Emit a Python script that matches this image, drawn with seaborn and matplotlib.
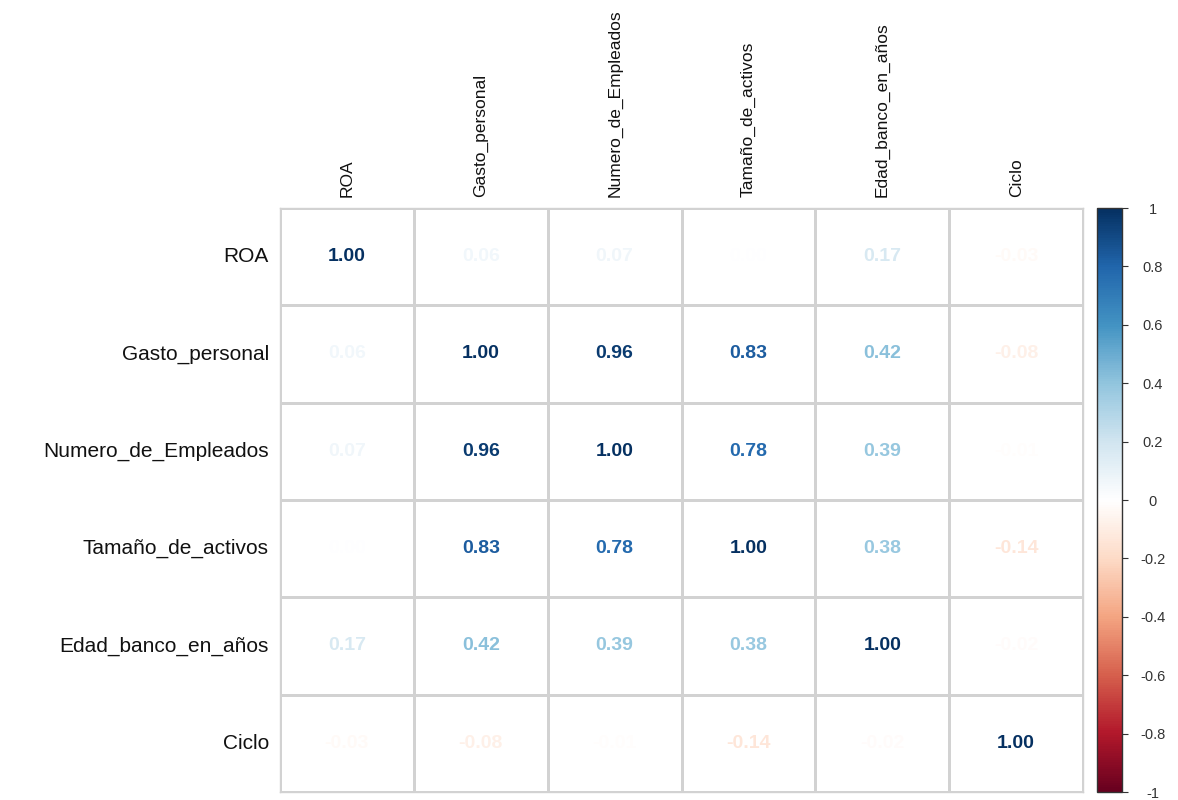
import numpy as np
import pandas as pd
import seaborn as sns
import matplotlib
matplotlib.use("Agg")
import matplotlib.pyplot as plt
from matplotlib.colors import LinearSegmentedColormap, ListedColormap, Normalize
from matplotlib.cm import ScalarMappable

# Variables of the correlation matrix
variables = ["ROA", "Gasto_personal", "Numero_de_Empleados",
             "Tamaño_de_activos", "Edad_banco_en_años", "Ciclo"]

# Correlation coefficients, one row per variable
row_roa    = [1.00, 0.06, 0.07, 0.00, 0.17, -0.03]
row_gasto  = [0.06, 1.00, 0.96, 0.83, 0.42, -0.08]
row_numero = [0.07, 0.96, 1.00, 0.78, 0.39, -0.01]
row_tamano = [0.00, 0.83, 0.78, 1.00, 0.38, -0.14]
row_edad   = [0.17, 0.42, 0.39, 0.38, 1.00, -0.02]
row_ciclo  = [-0.03, -0.08, -0.01, -0.14, -0.02, 1.00]

cbar_ticks = [1, 0.8, 0.6, 0.4, 0.2, 0, -0.2, -0.4, -0.6, -0.8, -1]

corr = pd.DataFrame([row_roa, row_gasto, row_numero, row_tamano, row_edad, row_ciclo],
                    index=variables, columns=variables)

# Diverging red-white-blue palette
cmap = LinearSegmentedColormap.from_list(
    "rdbu_white",
    ["#67001F", "#B2182B", "#D6604D", "#F4A582", "#FDDBC7", "#FFFFFF",
     "#D1E5F0", "#92C5DE", "#4393C3", "#2166AC", "#053061"])
norm = Normalize(vmin=-1, vmax=1)

sns.set_theme(style="white")
plt.rcParams["font.family"] = ["Liberation Sans", "DejaVu Sans"]

fig = plt.figure(figsize=(11.78, 8.0), dpi=100)
ax = fig.add_axes([0.2377, 0.01, 0.6817, 0.73])
cax = fig.add_axes([0.931, 0.01, 0.0215, 0.73])

# White cells with a light grid; numbers carry the colour of the coefficient
sns.heatmap(corr, ax=ax, cmap=ListedColormap(["white"]), cbar=False,
            linewidths=1.0, linecolor="#d2d2d2", square=False)

for i, rname in enumerate(variables):
    for j, cname in enumerate(variables):
        v = corr.loc[rname, cname]
        ax.text(j + 0.5, i + 0.5, f"{v:.2f}", ha="center", va="center",
                fontsize=14, fontweight="bold", color=cmap(norm(v)))

for side in ["left", "right", "top", "bottom"]:
    ax.spines[side].set_visible(True)
    ax.spines[side].set_color("#d2d2d2")
    ax.spines[side].set_linewidth(1.0)

ax.xaxis.tick_top()
ax.set_xticks(np.arange(len(variables)) + 0.5)
ax.set_xticklabels(variables, rotation=90, fontsize=12.5, color="#111111")
ax.set_yticks(np.arange(len(variables)) + 0.5)
ax.set_yticklabels(variables, rotation=0, fontsize=15, color="#111111")
ax.tick_params(axis="both", length=0, pad=8)
ax.set_xlabel("")
ax.set_ylabel("")

cb = fig.colorbar(ScalarMappable(norm=norm, cmap=cmap), cax=cax)
cb.set_ticks(cbar_ticks)
cb.set_ticklabels([f"{t:g}" for t in cbar_ticks])
cb.outline.set_edgecolor("#333333")
cb.outline.set_linewidth(1.0)
cax.tick_params(axis="y", length=4, width=0.8, color="#333333",
                labelsize=10.5, labelcolor="#333333", pad=18)
for lbl in cax.get_yticklabels():
    lbl.set_horizontalalignment("center")

fig.savefig("out.png", dpi=100, facecolor="white")
